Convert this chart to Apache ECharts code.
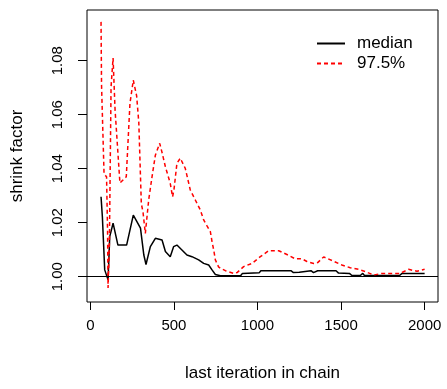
<!DOCTYPE html>
<html>
<head>
<meta charset="utf-8">
<script src="https://cdn.jsdelivr.net/npm/echarts@6/dist/echarts.min.js"></script>
<style>
html,body{margin:0;padding:0;background:#fff;}
#c{width:447px;height:389px;}
</style>
</head>
<body>
<div id="c"></div>
<script>
// median series
var medianX = [64, 72, 86, 106, 116, 136, 165, 217, 257, 300, 320, 333, 359, 389, 429, 449, 478, 498, 518, 548, 578, 608, 648, 678, 708, 728, 748, 778,
  900, 910, 1010, 1020, 1200, 1215, 1250, 1260, 1320, 1335, 1360, 1470, 1485, 1550, 1565, 1615, 1630, 1640, 1850, 1865, 2000];
var medianY = [1.0296, 1.0222, 1.0025, 0.9988, 1.0148, 1.0198, 1.0117, 1.0117, 1.0228, 1.0180, 1.0080, 1.0045, 1.0111, 1.0142, 1.0136, 1.0093, 1.0074, 1.0111, 1.0117, 1.0099, 1.0080, 1.0074, 1.0062, 1.0049, 1.0043, 1.0025, 1.0008, 1.0003,
  1.0004, 1.0012, 1.0014, 1.0022, 1.0022, 1.0015, 1.0016, 1.0022, 1.0022, 1.0015, 1.0022, 1.0022, 1.0013, 1.0012, 1.0004, 1.0004, 1.0012, 1.0004, 1.0004, 1.0012, 1.0012];
// 97.5% series
var upperX = [64, 67, 82, 97, 103, 106, 114, 124, 136, 148, 165, 177, 215, 237, 257, 277, 290, 305, 315, 329, 349, 369, 389, 415, 429, 449, 478, 492, 500, 518, 538, 568, 598, 628, 658, 678, 698, 718, 728, 738, 748, 768,
  808, 858, 878, 917, 967, 1017, 1067, 1127, 1176, 1226, 1266, 1296, 1336, 1360, 1396, 1452, 1505, 1555, 1605, 1645, 1695, 1745, 1805, 1854, 1904, 1954, 2000];
var upperY = [1.0944, 1.0710, 1.0380, 1.0370, 1.0170, 0.9958, 1.0125, 1.0704, 1.0810, 1.0617, 1.0458, 1.0347, 1.0370, 1.0642, 1.0728, 1.0670, 1.0570, 1.0270, 1.0240, 1.0160, 1.0284, 1.0370, 1.0450, 1.0494, 1.0460, 1.0407, 1.0346, 1.0296, 1.0320, 1.0420, 1.0439, 1.0401, 1.0321, 1.0284, 1.0247, 1.0210, 1.0188, 1.0167, 1.0130, 1.0099, 1.0062, 1.0035,
  1.0022, 1.0012, 1.0015, 1.0037, 1.0049, 1.0074, 1.0096, 1.0096, 1.0082, 1.0066, 1.0066, 1.0056, 1.0049, 1.0052, 1.0073, 1.0058, 1.0043, 1.0033, 1.0027, 1.0019, 1.0006, 1.0012, 1.0012, 1.0012, 1.0027, 1.0020, 1.0027];
var xTicks = [0, 500, 1000, 1500, 2000];
var yTicks = [1.00, 1.02, 1.04, 1.06, 1.08];
var seriesNames = ['median', '97.5%'];

function pairs(xs, ys) { return xs.map(function (x, i) { return [x, ys[i]]; }); }

var font = 'Liberation Sans, Arial, sans-serif';
var chart = echarts.init(document.getElementById('c'), null, {renderer: 'canvas'});
chart.setOption({
  animation: false,
  backgroundColor: '#fff',
  grid: {left: 87, right: 9, top: 10, bottom: 87, show: true, borderColor: '#000', borderWidth: 1, backgroundColor: 'transparent'},
  legend: {
    orient: 'vertical', left: 316, top: 35, itemWidth: 28, itemHeight: 16, itemGap: 3, padding: 0,
    itemStyle: {opacity: 0},
    textStyle: {fontFamily: font, fontSize: 17, color: '#000', padding: [0, 0, 0, 7]},
    data: seriesNames
  },
  xAxis: {
    type: 'value', min: -20, max: 2080,
    name: 'last iteration in chain', nameLocation: 'middle', nameGap: 63,
    nameTextStyle: {fontFamily: font, fontSize: 17, color: '#000'},
    axisLine: {show: false, onZero: false},
    axisTick: {show: true, length: 8, inside: false, customValues: xTicks, lineStyle: {color: '#000', width: 1}},
    axisLabel: {customValues: xTicks, fontFamily: font, fontSize: 15, color: '#000', margin: 16,
      formatter: function (v) { return String(v); }},
    splitLine: {show: false}
  },
  yAxis: {
    type: 'value', min: 0.9906, max: 1.0988,
    name: 'shrink factor', nameLocation: 'middle', nameGap: 61,
    nameTextStyle: {fontFamily: font, fontSize: 17, color: '#000'},
    axisLine: {show: false, onZero: false},
    axisTick: {show: true, length: 9, inside: false, customValues: yTicks, lineStyle: {color: '#000', width: 1}},
    axisLabel: {customValues: yTicks, rotate: 90, fontFamily: font, fontSize: 15, color: '#000', margin: 22,
      formatter: function (v) { return v.toFixed(2); }},
    splitLine: {show: false}
  },
  series: [
    {
      name: seriesNames[0], type: 'line', data: pairs(medianX, medianY), showSymbol: false, symbol: 'none',
      lineStyle: {color: '#000', width: 1.5}, itemStyle: {color: '#000'}, z: 2,
      markLine: {silent: true, symbol: 'none', label: {show: false}, lineStyle: {color: '#000', width: 1.2, type: 'solid'},
        data: [{yAxis: 1}]}
    },
    {
      name: seriesNames[1], type: 'line', data: pairs(upperX, upperY), showSymbol: false, symbol: 'none',
      lineStyle: {color: '#ff0000', width: 1.5, type: [4, 3]}, itemStyle: {color: '#ff0000'}, z: 3
    }
  ]
});
</script>
</body>
</html>
